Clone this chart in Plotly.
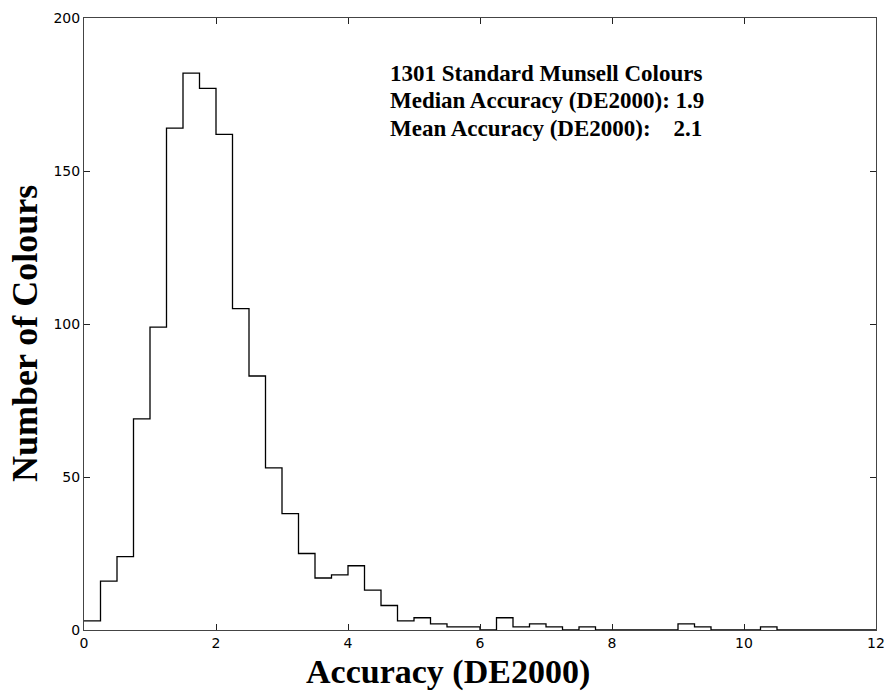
import plotly.graph_objects as go

bin_width = 0.25
bin_left_edges = [i * 0.25 for i in range(48)]
counts = [3, 16, 24, 69, 99, 164, 182, 177, 162, 105, 83, 53,
          38, 25, 17, 18, 21, 13, 8, 3, 4, 2, 1, 1,
          0, 4, 1, 2, 1, 0, 1, 0, 0, 0, 0, 0,
          2, 1, 0, 0, 0, 1, 0, 0, 0, 0, 0, 0]

x_ticks = [0, 2, 4, 6, 8, 10, 12]
y_ticks = [0, 50, 100, 150, 200]

x_title = "Accuracy (DE2000)"
y_title = "Number of Colours"

info_lines = ["1301 Standard Munsell Colours",
              "Median Accuracy (DE2000): 1.9",
              "Mean Accuracy (DE2000):\u00a0\u00a0\u00a0\u00a02.1"]
info_y = [182, 173, 164]

xs = bin_left_edges + [bin_left_edges[-1] + bin_width]
ys = counts + [counts[-1]]

fig = go.Figure()
fig.add_trace(go.Scatter(x=xs, y=ys, mode="lines", line_shape="hv",
                         line=dict(color="black", width=1.3),
                         showlegend=False, hoverinfo="skip"))

for txt, yy in zip(info_lines, info_y):
    fig.add_annotation(x=4.6, y=yy, xref="x", yref="y", text="<b>" + txt + "</b>",
                       showarrow=False, xanchor="left", yanchor="middle",
                       font=dict(family="Liberation Serif", size=23, color="black"))

fig.add_annotation(x=0.4596, y=-0.068, xref="paper", yref="paper",
                   text="<b>" + x_title + "</b>", showarrow=False,
                   xanchor="center", yanchor="middle",
                   font=dict(family="Liberation Serif", size=34, color="black"))
fig.add_annotation(x=-0.0745, y=0.4853, xref="paper", yref="paper",
                   text="<b>" + y_title + "</b>", showarrow=False, textangle=-90,
                   xanchor="center", yanchor="middle",
                   font=dict(family="Liberation Serif", size=36, color="black"))

axis_common = dict(showline=True, linecolor="#444", linewidth=1, mirror="allticks",
                   ticks="inside", ticklen=6, tickcolor="#222", showgrid=False,
                   zeroline=False, automargin=False,
                   tickfont=dict(family="DejaVu Sans", size=14, color="black"))

fig.update_xaxes(range=[0, 12], tickvals=x_ticks, **axis_common)
fig.update_yaxes(range=[0, 200], tickvals=y_ticks, **axis_common)

fig.update_layout(width=886, height=694, margin=dict(l=84, r=10, t=18, b=64),
                  plot_bgcolor="white", paper_bgcolor="white")

fig.write_html("out.html", config={"displayModeBar": False},
               post_script="document.body.style.margin='0px';document.body.style.overflow='hidden';")
